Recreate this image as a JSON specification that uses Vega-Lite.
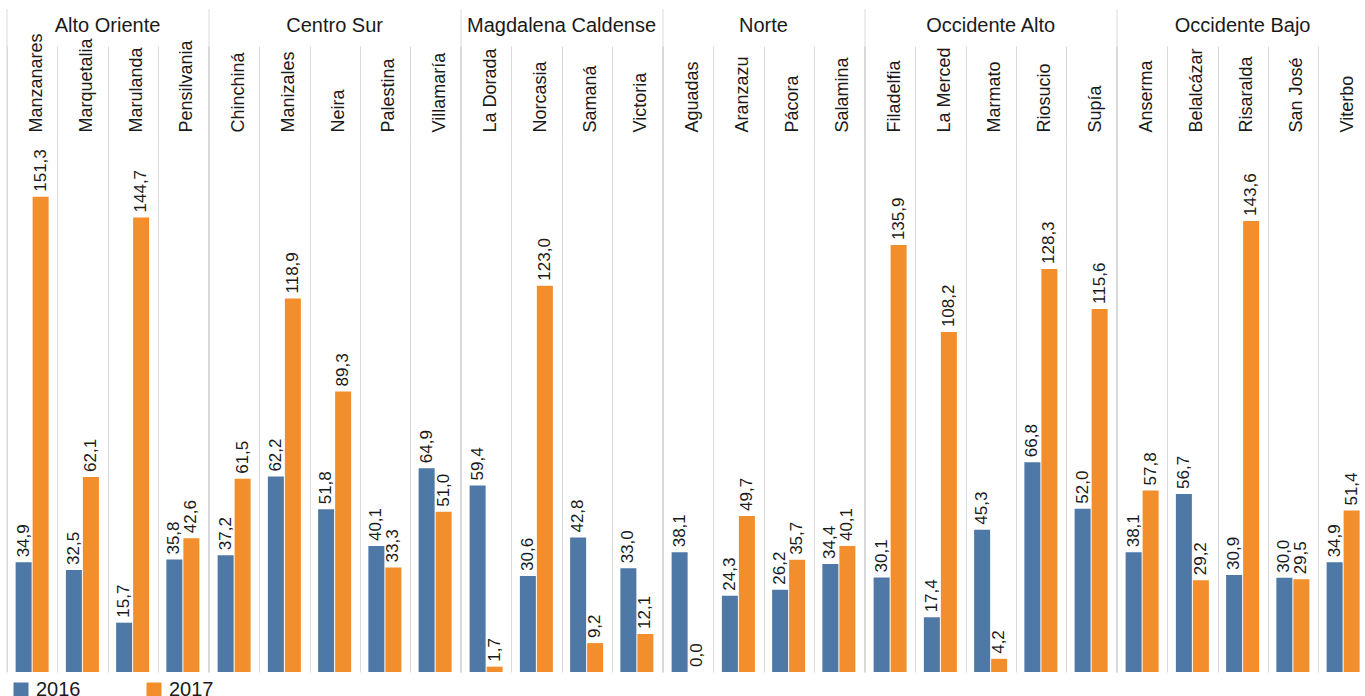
{
  "$schema": "https://vega.github.io/schema/vega-lite/v6.json",
  "padding": {"left": -2, "top": 8, "right": 0, "bottom": 0},
  "background": "white",
  "config": {
    "font": "Liberation Sans",
    "locale": {"number": {"decimal": ",", "thousands": ".", "grouping": [3], "currency": ["$", ""]}},
    "view": {"stroke": null},
    "axis": {"labelFont": "Liberation Sans"}
  },
  "data": {
    "values": [
      {"region": "Alto Oriente", "municipio": "Manzanares", "anio": 2016, "valor": 34.9},
      {"region": "Alto Oriente", "municipio": "Manzanares", "anio": 2017, "valor": 151.3},
      {"region": "Alto Oriente", "municipio": "Marquetalia", "anio": 2016, "valor": 32.5},
      {"region": "Alto Oriente", "municipio": "Marquetalia", "anio": 2017, "valor": 62.1},
      {"region": "Alto Oriente", "municipio": "Marulanda", "anio": 2016, "valor": 15.7},
      {"region": "Alto Oriente", "municipio": "Marulanda", "anio": 2017, "valor": 144.7},
      {"region": "Alto Oriente", "municipio": "Pensilvania", "anio": 2016, "valor": 35.8},
      {"region": "Alto Oriente", "municipio": "Pensilvania", "anio": 2017, "valor": 42.6},
      {"region": "Centro Sur", "municipio": "Chinchiná", "anio": 2016, "valor": 37.2},
      {"region": "Centro Sur", "municipio": "Chinchiná", "anio": 2017, "valor": 61.5},
      {"region": "Centro Sur", "municipio": "Manizales", "anio": 2016, "valor": 62.2},
      {"region": "Centro Sur", "municipio": "Manizales", "anio": 2017, "valor": 118.9},
      {"region": "Centro Sur", "municipio": "Neira", "anio": 2016, "valor": 51.8},
      {"region": "Centro Sur", "municipio": "Neira", "anio": 2017, "valor": 89.3},
      {"region": "Centro Sur", "municipio": "Palestina", "anio": 2016, "valor": 40.1},
      {"region": "Centro Sur", "municipio": "Palestina", "anio": 2017, "valor": 33.3},
      {"region": "Centro Sur", "municipio": "Villamaría", "anio": 2016, "valor": 64.9},
      {"region": "Centro Sur", "municipio": "Villamaría", "anio": 2017, "valor": 51.0},
      {"region": "Magdalena Caldense", "municipio": "La Dorada", "anio": 2016, "valor": 59.4},
      {"region": "Magdalena Caldense", "municipio": "La Dorada", "anio": 2017, "valor": 1.7},
      {"region": "Magdalena Caldense", "municipio": "Norcasia", "anio": 2016, "valor": 30.6},
      {"region": "Magdalena Caldense", "municipio": "Norcasia", "anio": 2017, "valor": 123.0},
      {"region": "Magdalena Caldense", "municipio": "Samaná", "anio": 2016, "valor": 42.8},
      {"region": "Magdalena Caldense", "municipio": "Samaná", "anio": 2017, "valor": 9.2},
      {"region": "Magdalena Caldense", "municipio": "Victoria", "anio": 2016, "valor": 33.0},
      {"region": "Magdalena Caldense", "municipio": "Victoria", "anio": 2017, "valor": 12.1},
      {"region": "Norte", "municipio": "Aguadas", "anio": 2016, "valor": 38.1},
      {"region": "Norte", "municipio": "Aguadas", "anio": 2017, "valor": 0.0},
      {"region": "Norte", "municipio": "Aranzazu", "anio": 2016, "valor": 24.3},
      {"region": "Norte", "municipio": "Aranzazu", "anio": 2017, "valor": 49.7},
      {"region": "Norte", "municipio": "Pácora", "anio": 2016, "valor": 26.2},
      {"region": "Norte", "municipio": "Pácora", "anio": 2017, "valor": 35.7},
      {"region": "Norte", "municipio": "Salamina", "anio": 2016, "valor": 34.4},
      {"region": "Norte", "municipio": "Salamina", "anio": 2017, "valor": 40.1},
      {"region": "Occidente Alto", "municipio": "Filadelfia", "anio": 2016, "valor": 30.1},
      {"region": "Occidente Alto", "municipio": "Filadelfia", "anio": 2017, "valor": 135.9},
      {"region": "Occidente Alto", "municipio": "La Merced", "anio": 2016, "valor": 17.4},
      {"region": "Occidente Alto", "municipio": "La Merced", "anio": 2017, "valor": 108.2},
      {"region": "Occidente Alto", "municipio": "Marmato", "anio": 2016, "valor": 45.3},
      {"region": "Occidente Alto", "municipio": "Marmato", "anio": 2017, "valor": 4.2},
      {"region": "Occidente Alto", "municipio": "Riosucio", "anio": 2016, "valor": 66.8},
      {"region": "Occidente Alto", "municipio": "Riosucio", "anio": 2017, "valor": 128.3},
      {"region": "Occidente Alto", "municipio": "Supía", "anio": 2016, "valor": 52.0},
      {"region": "Occidente Alto", "municipio": "Supía", "anio": 2017, "valor": 115.6},
      {"region": "Occidente Bajo", "municipio": "Anserma", "anio": 2016, "valor": 38.1},
      {"region": "Occidente Bajo", "municipio": "Anserma", "anio": 2017, "valor": 57.8},
      {"region": "Occidente Bajo", "municipio": "Belalcázar", "anio": 2016, "valor": 56.7},
      {"region": "Occidente Bajo", "municipio": "Belalcázar", "anio": 2017, "valor": 29.2},
      {"region": "Occidente Bajo", "municipio": "Risaralda", "anio": 2016, "valor": 30.9},
      {"region": "Occidente Bajo", "municipio": "Risaralda", "anio": 2017, "valor": 143.6},
      {"region": "Occidente Bajo", "municipio": "San José", "anio": 2016, "valor": 30.0},
      {"region": "Occidente Bajo", "municipio": "San José", "anio": 2017, "valor": 29.5},
      {"region": "Occidente Bajo", "municipio": "Viterbo", "anio": 2016, "valor": 34.9},
      {"region": "Occidente Bajo", "municipio": "Viterbo", "anio": 2017, "valor": 51.4}
    ]
  },
  "facet": {
    "column": {
      "field": "region",
      "type": "nominal",
      "header": {
        "title": null,
        "labelOrient": "top",
        "labelFont": "Liberation Sans",
        "labelFontSize": 20,
        "labelColor": "#1a1a1a",
        "labelBaseline": "alphabetic",
        "labelPadding": 86.5
      }
    }
  },
  "spacing": 0,
  "bounds": "flush",
  "align": "none",
  "resolve": {"scale": {"x": "independent"}},
  "spec": {
    "width": {"step": 17.004},
    "height": 534,
    "encoding": {
      "x": {
        "field": "municipio",
        "type": "nominal",
        "scale": {"paddingInner": 0, "paddingOuter": 0},
        "axis": {
          "orient": "top",
          "title": null,
          "labelAngle": -90,
          "labelAlign": "left",
          "labelBaseline": "middle",
          "labelFontSize": 18,
          "labelColor": "#1a1a1a",
          "labelPadding": -86,
          "labelOffset": 4,
          "labelLimit": 200,
          "tickBand": "extent",
          "ticks": true,
          "tickSize": 92,
          "tickColor": "#d9d9d9",
          "grid": true,
          "gridColor": "#d9d9d9",
          "domain": false
        }
      }
    },
    "layer": [
      {
        "mark": {"type": "bar"},
        "encoding": {
          "xOffset": {"field": "anio", "type": "nominal", "scale": {"paddingInner": 0.0588, "paddingOuter": 0.507}},
          "y": {"field": "valor", "type": "quantitative", "scale": {"domain": [0, 170]}, "axis": null},
          "color": {
            "field": "anio",
            "type": "nominal",
            "scale": {"range": ["#4e79a7", "#f28e2b"]},
            "legend": {
              "orient": "bottom",
              "direction": "horizontal",
              "title": null,
              "symbolType": "square",
              "symbolSize": 225,
              "symbolStrokeWidth": 0,
              "labelFontSize": 20,
              "labelColor": "#1a1a1a",
              "labelOffset": 5,
              "columnPadding": 63,
              "padding": 4,
              "offset": 3
            }
          }
        }
      },
      {
        "mark": {"type": "text", "angle": 270, "align": "left", "baseline": "middle", "dx": 5, "fontSize": 17, "color": "#1a1a1a"},
        "encoding": {
          "xOffset": {"field": "anio", "type": "nominal", "scale": {"paddingInner": 0.0588, "paddingOuter": 0.507}},
          "y": {"field": "valor", "type": "quantitative", "scale": {"domain": [0, 170]}, "axis": null},
          "text": {"field": "valor", "type": "quantitative", "format": ".1f"}
        }
      },
      {
        "transform": [
          {"filter": {"field": "anio", "equal": 2016}},
          {"filter": {"field": "municipio", "oneOf": ["Manzanares", "Chinchiná", "La Dorada", "Aguadas", "Filadelfia", "Anserma"]}}
        ],
        "mark": {"type": "rule", "color": "#d9d9d9", "strokeWidth": 1},
        "encoding": {
          "x": {"field": "municipio", "type": "nominal", "bandPosition": 0},
          "y": {"datum": 0, "type": "quantitative", "scale": {"domain": [0, 170]}, "axis": null},
          "y2": {"datum": 211}
        }
      },
      {
        "transform": [
          {"filter": {"field": "anio", "equal": 2016}},
          {"filter": {"field": "municipio", "equal": "Viterbo"}}
        ],
        "mark": {"type": "rule", "color": "#d9d9d9", "strokeWidth": 1},
        "encoding": {
          "x": {"field": "municipio", "type": "nominal", "bandPosition": 1},
          "y": {"datum": 0, "type": "quantitative", "scale": {"domain": [0, 170]}, "axis": null},
          "y2": {"datum": 211}
        }
      },
      {
        "mark": {"type": "rule", "color": "#d0d0d0", "strokeDash": [1, 2]},
        "encoding": {
          "y": {"datum": 0, "type": "quantitative", "scale": {"domain": [0, 170]}, "axis": null}
        }
      }
    ]
  }
}
